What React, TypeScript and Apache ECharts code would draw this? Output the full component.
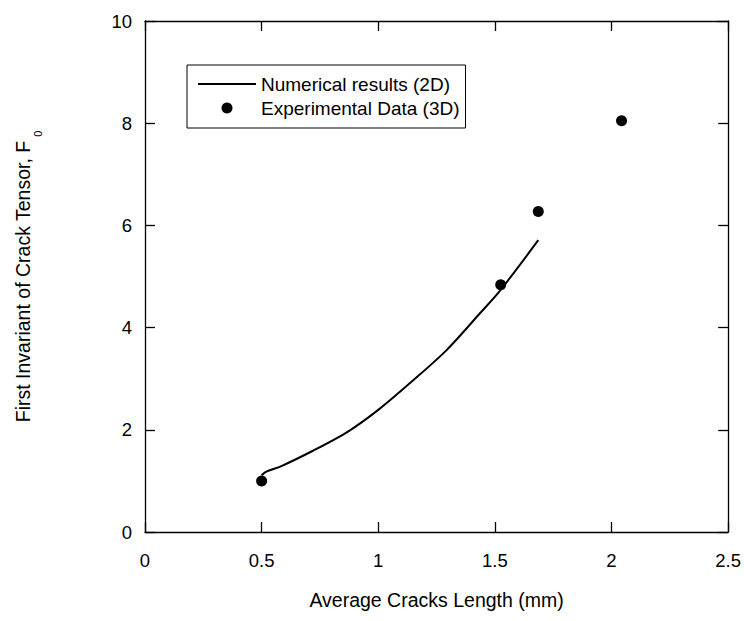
import React, { useEffect, useRef } from "react";
import * as echarts from "echarts";

// Numerical results (2D) - curve
const numX = [0.5, 0.52, 0.58, 0.72, 0.865, 1.0, 1.15, 1.293, 1.436, 1.525, 1.686];
const numY = [1.11, 1.18, 1.28, 1.59, 1.95, 2.39, 2.97, 3.56, 4.28, 4.74, 5.71];

// Experimental Data (3D)
const expX = [0.5, 1.525, 1.686, 2.043];
const expY = [1.0, 4.84, 6.27, 8.05];

const xTicks = { min: 0, max: 2.5, interval: 0.5 };
const yTicks = { min: 0, max: 10, interval: 2 };

const NUM_NAME = "Numerical results (2D)";
const EXP_NAME = "Experimental Data (3D)";

const FONT = "Liberation Sans, Arial, sans-serif";

export default function App() {
  const ref = useRef<HTMLDivElement>(null);
  useEffect(() => {
    if (!ref.current) return;
    const chart = echarts.init(ref.current, undefined, { renderer: "svg" });
    const axisLine = () => ({ show: true, onZero: false, lineStyle: { color: "#000", width: 1.3 } });
    const tick = () => ({ show: true, inside: true, length: 10, lineStyle: { color: "#000", width: 1.3 } });
    chart.setOption({
      animation: false,
      backgroundColor: "#fff",
      textStyle: { fontFamily: FONT, color: "#000" },
      grid: { left: 145, right: 15, top: 21, bottom: 89, containLabel: false },
      legend: {
        left: 187,
        top: 65,
        orient: "vertical",
        borderColor: "#000",
        borderWidth: 1,
        padding: [9, 6, 10, 11],
        itemWidth: 58,
        itemHeight: 11,
        itemGap: 4,
        textStyle: { fontFamily: FONT, fontSize: 19, color: "#000", lineHeight: 20 },
        data: [
          { name: NUM_NAME, icon: "path://M0,0H100V3.4H0Z" },
          { name: EXP_NAME, icon: "circle" },
        ],
      },
      xAxis: [
        {
          type: "value",
          ...xTicks,
          position: "bottom",
          axisLine: axisLine(),
          axisTick: tick(),
          splitLine: { show: false },
          axisLabel: { fontSize: 18.5, color: "#000", margin: 19, fontFamily: FONT },
          name: "Average Cracks Length (mm)",
          nameLocation: "middle",
          nameGap: 58,
          nameTextStyle: { fontSize: 19.5, color: "#000", fontFamily: FONT },
        },
        {
          type: "value",
          ...xTicks,
          position: "top",
          axisLine: axisLine(),
          axisTick: tick(),
          splitLine: { show: false },
          axisLabel: { show: false },
        },
      ],
      yAxis: [
        {
          type: "value",
          ...yTicks,
          position: "left",
          axisLine: axisLine(),
          axisTick: tick(),
          splitLine: { show: false },
          axisLabel: { fontSize: 18.5, color: "#000", margin: 13, fontFamily: FONT },
          name: "{m|First Invariant of Crack Tensor, F}{sub|0}",
          nameLocation: "middle",
          nameGap: 110,
          nameTextStyle: {
            fontSize: 19.5,
            color: "#000",
            fontFamily: FONT,
            rich: {
              m: { fontSize: 19.5, fontFamily: FONT, color: "#000", lineHeight: 22, verticalAlign: "top" },
              sub: {
                fontSize: 11,
                fontFamily: FONT,
                color: "#000",
                lineHeight: 11,
                verticalAlign: "top",
                padding: [19, 0, 0, 4],
              },
            },
          },
        },
        {
          type: "value",
          ...yTicks,
          position: "right",
          axisLine: axisLine(),
          axisTick: tick(),
          splitLine: { show: false },
          axisLabel: { show: false },
        },
      ],
      series: [
        {
          name: NUM_NAME,
          type: "line",
          data: numX.map((x, i) => [x, numY[i]]),
          smooth: 0.3,
          symbol: "none",
          lineStyle: { color: "#000", width: 2 },
          itemStyle: { color: "#000" },
        },
        {
          name: EXP_NAME,
          type: "scatter",
          data: expX.map((x, i) => [x, expY[i]]),
          symbol: "circle",
          symbolSize: 11,
          itemStyle: { color: "#000", opacity: 1 },
        },
      ],
    });
    return () => chart.dispose();
  }, []);
  return <div ref={ref} style={{ width: 744, height: 621, position: "absolute", left: 0, top: 0 }} />;
}
